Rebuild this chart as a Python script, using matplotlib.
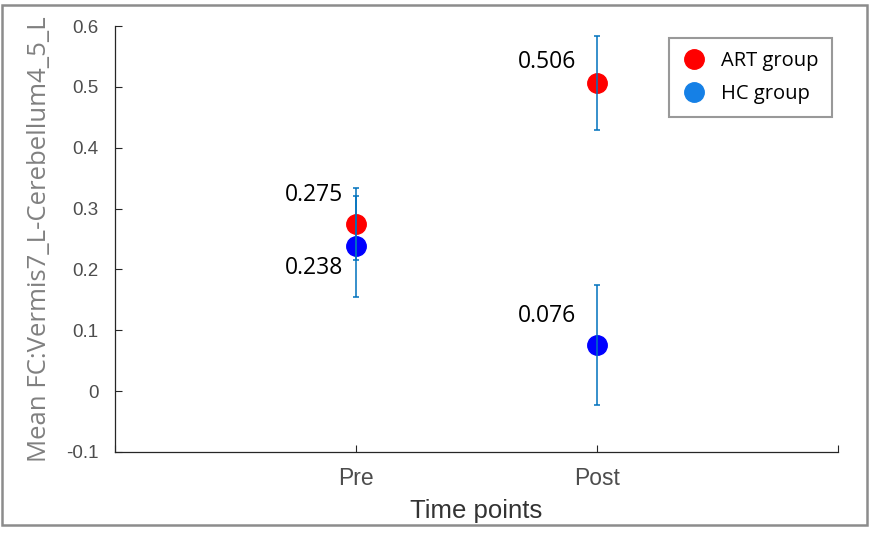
import matplotlib

matplotlib.use("Agg")
import matplotlib.pyplot as plt
from matplotlib.lines import Line2D
from matplotlib.patches import Rectangle

# ── values ──────────────────────────────────────────────────────────────────
TIME_POINTS = ["Pre", "Post"]
ART_MEAN = [0.275, 0.506]
ART_ERR = [0.059, 0.077]
HC_MEAN = [0.238, 0.076]
HC_ERR = [0.083, 0.098]
GROUPS = ["ART group", "HC group"]

C_ART = "#ff0000"
C_HC = "#0000ff"
C_HC_LEG = "#1580e6"
C_ERR = "#0072bd"
TICK_INK = "#4d4d4d"
FRAME = "#8c8c8c"

SANS = ["Liberation Sans", "DejaVu Sans"]
HUMAN = ["Open Sans", "DejaVu Sans"]


def main():
    fig = plt.figure(figsize=(8.76, 5.34), dpi=100)
    ax = fig.add_axes([0.1313, 0.1536, 0.8253, 0.7977])

    x = [i + 1 for i in range(len(TIME_POINTS))]

    ax.plot(x, ART_MEAN, ls="none", marker="o", ms=14, color=C_ART, zorder=2)
    ax.plot(x, HC_MEAN, ls="none", marker="o", ms=14, color=C_HC, zorder=2)
    for mean, err in ((ART_MEAN, ART_ERR), (HC_MEAN, HC_ERR)):
        ax.errorbar(x, mean, yerr=err, fmt="none", ecolor=C_ERR, elinewidth=1.1,
                    capsize=2.5, capthick=1.1, zorder=3)

    # value labels, offsets in points
    offsets_art = [(-30, 21), (-36, 15)]
    offsets_hc = [(-30, -15.5), (-36, 21)]
    for xi, yi, off in zip(x, ART_MEAN, offsets_art):
        ax.annotate(f"{yi:.3f}", (xi, yi), textcoords="offset points", xytext=off,
                    ha="center", va="center", fontsize=16.5, family=HUMAN,
                    color="black")
    for xi, yi, off in zip(x, HC_MEAN, offsets_hc):
        ax.annotate(f"{yi:.3f}", (xi, yi), textcoords="offset points", xytext=off,
                    ha="center", va="center", fontsize=16.5, family=HUMAN,
                    color="black")

    ax.set_xlim(0, 3)
    ax.set_ylim(-0.1, 0.6)
    ax.set_xticks([0] + x + [3])
    ax.set_xticklabels([""] + TIME_POINTS + [""], family=SANS, fontsize=16.5,
                       color=TICK_INK)
    ax.set_yticks([-0.1, 0, 0.1, 0.2, 0.3, 0.4, 0.5, 0.6])
    ax.set_yticklabels(["-0.1", "0", "0.1", "0.2", "0.3", "0.4", "0.5", "0.6"],
                       family=SANS, fontsize=13.5, color=TICK_INK)
    ax.tick_params(direction="in", length=5, width=0.8, colors="#262626",
                   labelcolor=TICK_INK)
    ax.tick_params(axis="x", pad=11)
    ax.tick_params(axis="y", pad=12)
    for s in ("top", "right"):
        ax.spines[s].set_visible(False)
    for s in ("left", "bottom"):
        ax.spines[s].set_color("#262626")
        ax.spines[s].set_linewidth(0.9)

    ax.set_xlabel("Time points", family=SANS, fontsize=18.5, color="#333333",
                  labelpad=6)
    ax.set_ylabel("Mean FC:Vermis7_L-Cerebellum4_5_L", family=HUMAN, fontsize=18.5,
                  color="#808080", labelpad=10)

    handles = [
        Line2D([], [], ls="none", marker="o", ms=14, color=C_ART),
        Line2D([], [], ls="none", marker="o", ms=14, color=C_HC_LEG),
    ]
    leg = ax.legend(handles, GROUPS, loc="upper right",
                    bbox_to_anchor=(0.9917, 0.9718), borderaxespad=0,
                    frameon=True, fancybox=False,
                    prop={"family": HUMAN, "size": 14.5}, handletextpad=0.75,
                    borderpad=0.65, labelspacing=0.65, handlelength=1.2)
    leg.get_frame().set_edgecolor("#808080")
    leg.get_frame().set_linewidth(1.5)

    # outer grey frame of the picture
    fig.patches.append(Rectangle((0.0023, 0.0169), 0.9874, 0.9737,
                                 transform=fig.transFigure, fill=False,
                                 edgecolor=FRAME, linewidth=1.8))

    fig.savefig("out.png", dpi=100)


if __name__ == "__main__":
    main()
